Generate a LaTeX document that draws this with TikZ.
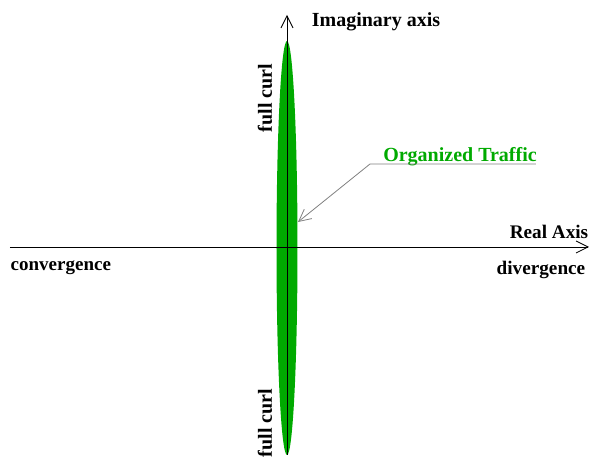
\documentclass[tikz,border=0pt]{standalone}
\usepackage{fontspec}
\setmainfont{Liberation Serif}
\usetikzlibrary{arrows.meta}
\definecolor{curlgreen}{RGB}{0,170,0}

\begin{document}
\begin{tikzpicture}[x=0.5pt,y=-0.5pt,>={Straight Barb[length=6pt,width=6pt]}]
    \useasboundingbox (0,0) rectangle (591,460);

    \fill[curlgreen] (287,248) ellipse [x radius=10.5, y radius=207];

    \coordinate (I1) at (287,455);
    \coordinate (I2) at (287,15);
    \coordinate (R1) at (10,247);
    \coordinate (R2) at (589,247);

    \draw[->] (I1)--(I2);
    \draw[->] (R1)--(R2);

    \node[font=\bfseries] (Im) at (376,22) {Imaginary axis};
    \node[font=\bfseries,rotate=90] (C1) at (265,98) {full curl};
    \node[font=\bfseries,rotate=90] (C2) at (265,423) {full curl};
    \node[font=\bfseries,anchor=east,scale=0.96] (Re) at (595,232) {Real Axis};
    \node[font=\bfseries,anchor=east,scale=0.96] (Div) at (592,270) {divergence};
    \node[font=\bfseries,anchor=west,scale=0.95] (Con) at (4,268) {convergence};
    \node[font=\bfseries,text=curlgreen] (OT) at (460,157) {Organized Traffic};

    \coordinate (L1) at (536,164);
    \coordinate (L2) at (370,164);
    \coordinate (L3) at (298,222);

    \draw[gray,->] (L1)--(L2)--(L3);

\end{tikzpicture}
\end{document}
